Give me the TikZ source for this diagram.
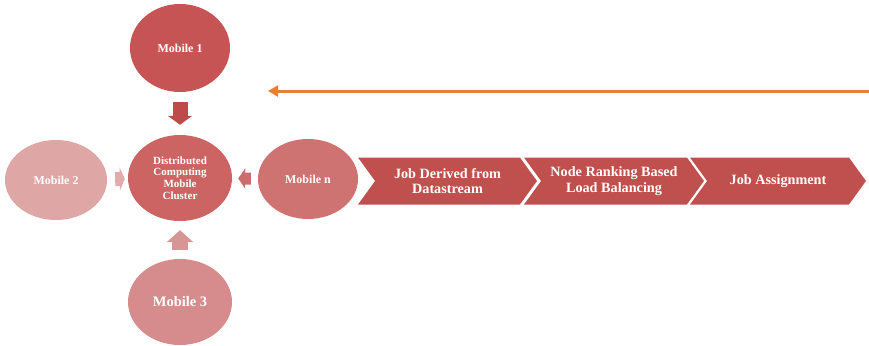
\documentclass[tikz,border=0pt]{standalone}
\usepackage{fontspec}
\setmainfont{Liberation Serif}
\usetikzlibrary{shapes.geometric,shapes.symbols,arrows.meta}
\definecolor{cM1}{RGB}{198,84,84}
\definecolor{cCl}{RGB}{204,100,100}
\definecolor{cMn}{RGB}{207,114,114}
\definecolor{cM2}{RGB}{223,166,166}
\definecolor{cM3}{RGB}{214,140,140}
\definecolor{cA1}{RGB}{190,74,74}
\definecolor{cA2}{RGB}{226,172,172}
\definecolor{cAn}{RGB}{204,108,108}
\definecolor{cA3}{RGB}{214,150,150}
\definecolor{cChev}{RGB}{192,80,77}
\definecolor{cOr}{RGB}{237,125,49}
\tikzset{
  mob/.style={ellipse, inner sep=0pt, text=white, font=\bfseries\fontsize{12}{13}\selectfont, align=center},
  chev/.style={signal, signal from=west, signal to=east, signal pointer angle=108, fill=cChev, draw=none, text=white,
     minimum height=47pt, inner sep=0pt, font=\bfseries\fontsize{14.2}{15.5}\selectfont, align=center}
}
\begin{document}
\begin{tikzpicture}[x=1pt,y=-1pt]
\useasboundingbox (0,0) rectangle (869,345);
\node[mob, fill=cM1, minimum width=100pt, minimum height=88pt] (m1) at (180,48) {Mobile 1};
\node[mob, fill=cCl, minimum width=104pt, minimum height=86pt, font=\bfseries\fontsize{11}{11.7}\selectfont] (cl) at (180,178) {Distributed\\Computing\\Mobile\\Cluster};
\node[mob, fill=cM2, minimum width=102pt, minimum height=80pt] (m2) at (56,180) {Mobile 2};
\node[mob, fill=cMn, minimum width=100pt, minimum height=80pt] (mn) at (308,179) {Mobile n};
\node[mob, fill=cM3, minimum width=104pt, minimum height=86pt, font=\bfseries\fontsize{14.5}{16}\selectfont] (m3) at (180,302) {Mobile 3};
\draw[cA1, line width=15pt, shorten <=10pt, shorten >=10pt, -{Triangle[length=9pt,width=24pt]}] (m1) -- (cl);
\draw[cA2, line width=14pt, shorten <=8pt, shorten >=3pt, -{Triangle[length=5pt,width=23pt]}] (m2) -- (cl);
\draw[cAn, line width=12pt, shorten <=7pt, shorten >=6pt, -{Triangle[length=7pt,width=20pt]}] (mn) -- (cl);
\draw[cA3, line width=16pt, shorten <=9pt, shorten >=9pt, -{Triangle[length=12pt,width=26pt]}] (m3) -- (cl);
\node[chev, minimum width=179pt] (c1) at (447.5,181) {Job Derived from\\Datastream};
\node[chev, minimum width=180pt] (c2) at (614,181) {Node Ranking Based\\Load Balancing};
\node[chev, minimum width=176pt] (c3) at (778,181) {Job Assignment};
\coordinate (os) at (869,91);
\coordinate (oe) at (268,91);
\draw[cOr, line width=3pt, -{Triangle[length=10pt,width=11pt]}] (os) -- (oe);
\end{tikzpicture}
\end{document}
